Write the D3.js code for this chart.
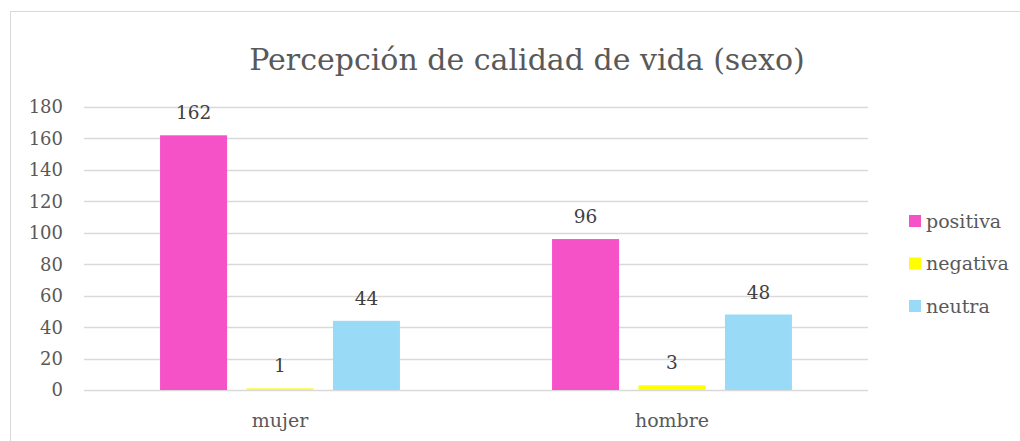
<!DOCTYPE html>
<html>
<head>
<meta charset="utf-8">
<script src="https://cdn.jsdelivr.net/npm/d3@7"></script>
<style>
  body { margin: 0; background: #fff; }
</style>
</head>
<body>
<div id="chart"></div>
<script>
var width = 1020;
var height = 441;

var categories = ["mujer", "hombre"];
var series = ["positiva", "negativa", "neutra"];
var positiva = [162, 96];
var negativa = [1, 3];
var neutra = [44, 48];
var colors = ["#f652c8", "#ffff00", "#99dbf6"];
var yTicks = [0, 20, 40, 60, 80, 100, 120, 140, 160, 180];

var values = [positiva, negativa, neutra];
var rows = categories.map((c, i) => ({cat: c, vals: series.map((s, j) => ({key: s, value: values[j][i], color: colors[j]}))}));

var margin = {left: 84, right: 152, top: 107, bottom: 51};

const svg = d3.select("#chart")
    .append("svg")
    .attr("width", width)
    .attr("height", height)
    .style("font-family", "'DejaVu Serif', serif");

// chart frame
svg.append("rect")
    .attr("x", 10.5).attr("y", 11.5)
    .attr("width", width + 20).attr("height", height + 20)
    .attr("fill", "none")
    .attr("stroke", "#d9d9d9");

svg.append("text")
    .attr("x", 527).attr("y", 70)
    .attr("text-anchor", "middle")
    .attr("fill", "#595959")
    .attr("font-size", 30)
    .text("Percepción de calidad de vida (sexo)");

const x0 = d3.scaleBand()
    .domain(categories)
    .range([margin.left, width - margin.right])
    .paddingInner(0.388)
    .paddingOuter(0.194);

const x1 = d3.scaleBand()
    .domain(series)
    .range([0, x0.bandwidth()])
    .paddingInner(0.225);

const y = d3.scaleLinear()
    .domain([0, 180])
    .range([height - margin.bottom, margin.top]);

// gridlines
svg.append("g")
    .selectAll("line")
    .data(yTicks)
    .join("line")
    .attr("x1", margin.left)
    .attr("x2", width - margin.right)
    .attr("y1", d => Math.round(y(d)) + 0.5)
    .attr("y2", d => Math.round(y(d)) + 0.5)
    .attr("stroke", "#d9d9d9")
    .attr("stroke-width", 1.5);

// y labels
svg.append("g")
    .selectAll("text")
    .data(yTicks)
    .join("text")
    .attr("x", 63)
    .attr("y", d => y(d))
    .attr("dy", "0.36em")
    .attr("text-anchor", "end")
    .attr("fill", "#595959")
    .attr("font-size", 18)
    .text(d => d);

const group = svg.append("g")
    .selectAll("g")
    .data(rows)
    .join("g")
    .attr("transform", d => `translate(${x0(d.cat)},0)`);

group.selectAll("rect")
    .data(d => d.vals)
    .join("rect")
    .attr("x", d => x1(d.key))
    .attr("y", d => y(d.value))
    .attr("width", x1.bandwidth())
    .attr("height", d => y(0) - y(d.value))
    .attr("fill", d => d.color);

group.selectAll("text")
    .data(d => d.vals)
    .join("text")
    .attr("x", d => x1(d.key) + x1.bandwidth() / 2)
    .attr("y", d => y(d.value) - 16)
    .attr("text-anchor", "middle")
    .attr("fill", "#404040")
    .attr("font-size", 18.5)
    .text(d => d.value);

// category labels
svg.append("g")
    .selectAll("text")
    .data(categories)
    .join("text")
    .attr("x", d => x0(d) + x0.bandwidth() / 2)
    .attr("y", 427)
    .attr("text-anchor", "middle")
    .attr("fill", "#595959")
    .attr("font-size", 19)
    .text(d => d);

// legend
const legend = svg.append("g")
    .selectAll("g")
    .data(series)
    .join("g")
    .attr("transform", (d, i) => `translate(909,${215 + i * 42.5})`);

legend.append("rect")
    .attr("width", 12).attr("height", 12)
    .attr("fill", (d, i) => colors[i]);

legend.append("text")
    .attr("x", 17).attr("y", 6)
    .attr("dy", "0.36em")
    .attr("fill", "#595959")
    .attr("font-size", 19)
    .text(d => d);
</script>
</body>
</html>
